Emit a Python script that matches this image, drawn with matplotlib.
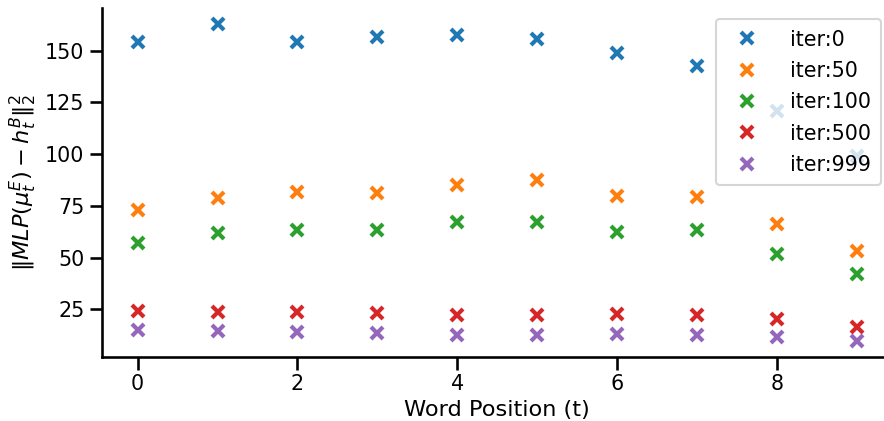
import numpy as np
import matplotlib
matplotlib.use("Agg")
import matplotlib.pyplot as plt
import seaborn as sns

# squared distance per word position, one list per checkpoint
positions = np.arange(10)
iter_labels = ["iter:0", "iter:50", "iter:100", "iter:500", "iter:999"]
dist_iter0 = [154.4, 163.0, 154.0, 156.8, 157.7, 155.8, 149.0, 142.7, 121.0, 99.0]
dist_iter50 = [73.1, 78.9, 81.6, 81.2, 85.3, 87.7, 80.0, 79.2, 66.0, 53.4]
dist_iter100 = [57.0, 61.8, 63.1, 63.1, 67.4, 67.4, 62.6, 63.4, 51.6, 42.1]
dist_iter500 = [24.1, 23.6, 23.6, 23.1, 22.3, 22.0, 22.8, 22.3, 20.3, 16.6]
dist_iter999 = [15.0, 14.3, 14.2, 13.7, 12.7, 12.7, 12.9, 12.6, 11.8, 9.6]
all_dists = [dist_iter0, dist_iter50, dist_iter100, dist_iter500, dist_iter999]

sns.set_context("talk", font_scale=0.9)

fig = plt.figure(figsize=(8.84, 4.21), dpi=100)
# axes runs slightly past the right edge, as in a tight-cropped save
ax = fig.add_axes([0.115, 0.152, 0.895, 0.829])

for label, d in zip(iter_labels, all_dists):
    ax.plot(positions, d, "x", ms=9, mew=3, label=label)

ax.set_xlabel("Word Position (t)", labelpad=4)
ax.set_ylabel(r"$\|MLP(\mu_t^E) - h_t^B\|_2^2$")
ax.legend(loc="upper right", labelspacing=0.55, borderpad=0.5,
          handletextpad=1.1, borderaxespad=0.55)
sns.despine(ax=ax)

fig.savefig("out.png", dpi=100)
